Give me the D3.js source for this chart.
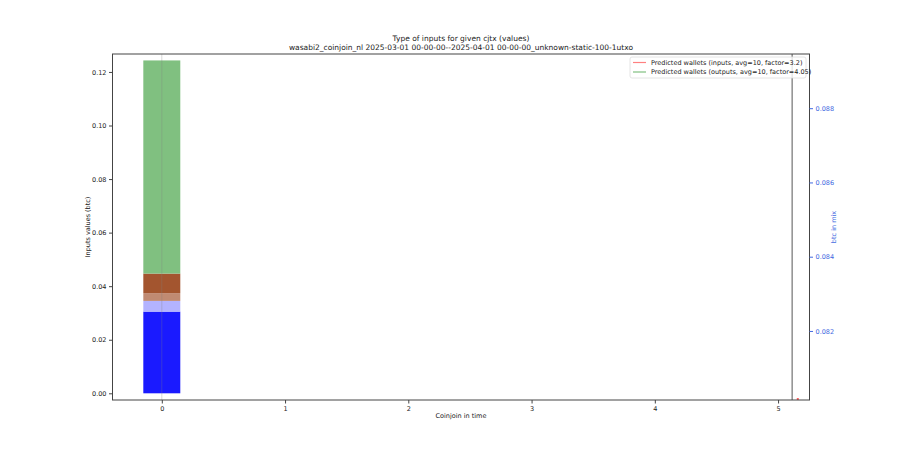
<!DOCTYPE html>
<html><head><meta charset="utf-8">
<script src="https://cdn.jsdelivr.net/npm/d3@7"></script>
<style>
body{margin:0;background:#fff;}
text{font-family:"DejaVu Sans",sans-serif;}
</style></head>
<body><svg id="c" width="900" height="450"></svg>
<script>
// ---- data ----
const categories = [0];                       // coinjoin index
const segmentNames = ["inputs A","inputs B","inputs C","inputs D","inputs E"];
const segmentValues = [0.0305, 0.0040, 0.0029, 0.0073, 0.0796]; // stacked, btc
const xTicks = [0,1,2,3,4,5];
const yTicks = [0.00,0.02,0.04,0.06,0.08,0.10,0.12];
const rightTicks = [0.082,0.084,0.086,0.088];
const markerLinesX = [0, 5.114];
const redPoint = [{x:5.16, y:0.08014}];
const legendLabels = ["Predicted wallets (inputs, avg=10, factor=3.2)",
                      "Predicted wallets (outputs, avg=10, factor=4.05)"];
const titleLines = ["Type of inputs for given cjtx (values)",
  "wasabi2_coinjoin_nl 2025-03-01 00-00-00--2025-04-01 00-00-00_unknown-static-100-1utxo"];

// ---- style ----
const segColors = ["#1a1aff","#b3b3ff","#c08a72","#a3552f","#80c080"];
const legendColors = ["#ff8080","#80c080"];
const blue = "#4169e1";

const W=900,H=450, L=112.5, R=809.5, T=54, B=400;
const svg = d3.select("#c");
const x = d3.scaleLinear().domain([-0.40,5.255]).range([L,R]);
const y = d3.scaleLinear().domain([-0.0025,0.1267]).range([B,T]);
const y2 = d3.scaleLinear().domain([0.08014,0.08946]).range([B,T]);

svg.append("defs").append("clipPath").attr("id","clip")
  .append("rect").attr("x",L).attr("y",T).attr("width",R-L).attr("height",B-T);
const g = svg.append("g").attr("clip-path","url(#clip)");

// stacked bars
const stackData = [];
categories.forEach(c=>{
  let acc=0;
  segmentValues.forEach((v,i)=>{stackData.push({c, y0:acc, y1:acc+v, i}); acc+=v;});
});
const bw = 0.3;
g.selectAll("rect.seg").data(stackData).enter().append("rect")
  .attr("x",d=>x(d.c-bw/2)).attr("width",d=>x(d.c+bw/2)-x(d.c-bw/2))
  .attr("y",d=>y(d.y1)).attr("height",d=>y(d.y0)-y(d.y1))
  .attr("fill",d=>segColors[d.i]);

// vertical lines
g.append("line").attr("x1",x(markerLinesX[0])).attr("x2",x(markerLinesX[0]))
  .attr("y1",T).attr("y2",B).attr("stroke","#808080").attr("stroke-opacity",0.3).attr("stroke-width",1);
g.append("line").attr("x1",x(markerLinesX[1])).attr("x2",x(markerLinesX[1]))
  .attr("y1",T).attr("y2",B).attr("stroke","#555").attr("stroke-width",1);
// red point
g.selectAll("rect.pt").data(redPoint).enter().append("rect")
  .attr("x",d=>x(d.x)-1).attr("y",d=>y2(d.y)-2).attr("width",2).attr("height",2)
  .attr("fill","#ff6060");

// spines
svg.append("rect").attr("x",L).attr("y",T).attr("width",R-L).attr("height",B-T)
  .attr("fill","none").attr("stroke","#444").attr("stroke-width",1);

// axes
const fs = 6.5;
const ax = svg.append("g").attr("transform",`translate(0,${B})`)
  .call(d3.axisBottom(x).tickValues(xTicks).tickFormat(d3.format("d")).tickSize(3.5).tickPadding(2.5));
const ay = svg.append("g").attr("transform",`translate(${L},0)`)
  .call(d3.axisLeft(y).tickValues(yTicks).tickFormat(d3.format(".2f")).tickSize(3.5).tickPadding(2.5));
const ay2 = svg.append("g").attr("transform",`translate(${R},0)`)
  .call(d3.axisRight(y2).tickValues(rightTicks).tickFormat(d3.format(".3f")).tickSize(3.5).tickPadding(2.5));
[ax,ay,ay2].forEach(a=>{a.select(".domain").remove(); a.selectAll("text").attr("font-size",fs).attr("font-family","DejaVu Sans");});
ax.selectAll("line").attr("stroke","#444"); ay.selectAll("line").attr("stroke","#444");
ax.selectAll("text").attr("fill","#222"); ay.selectAll("text").attr("fill","#222");
ay2.selectAll("line").attr("stroke",blue); ay2.selectAll("text").attr("fill",blue);

// labels
svg.append("text").attr("x",(L+R)/2).attr("y",418).attr("text-anchor","middle")
  .attr("font-size",fs).attr("fill","#222").text("Coinjoin in time");
svg.append("text").attr("transform",`translate(90,${(T+B)/2}) rotate(-90)`).attr("text-anchor","middle")
  .attr("font-size",fs).attr("fill","#222").text("Inputs values (btc)");
svg.append("text").attr("transform",`translate(836,${(T+B)/2}) rotate(-90)`).attr("text-anchor","middle")
  .attr("font-size",fs).attr("fill",blue).text("btc in mix");
titleLines.forEach((t,i)=>{
  svg.append("text").attr("x",(L+R)/2).attr("y",41+i*9).attr("text-anchor","middle")
    .attr("font-size",7.5).attr("fill","#222").text(t);
});

// legend
const lg = svg.append("g");
lg.append("rect").attr("x",630).attr("y",57).attr("width",176).attr("height",21).attr("rx",2)
  .attr("fill","#fff").attr("fill-opacity",0.8).attr("stroke","#ddd").attr("stroke-width",0.8);
legendLabels.forEach((t,i)=>{
  const yy = 62.5+i*9.5;
  lg.append("line").attr("x1",633).attr("x2",646).attr("y1",yy).attr("y2",yy)
    .attr("stroke",legendColors[i]).attr("stroke-width",1.2);
  lg.append("text").attr("x",651).attr("y",yy+2.3).attr("font-size",fs).attr("fill","#222").text(t);
});
</script></body></html>
